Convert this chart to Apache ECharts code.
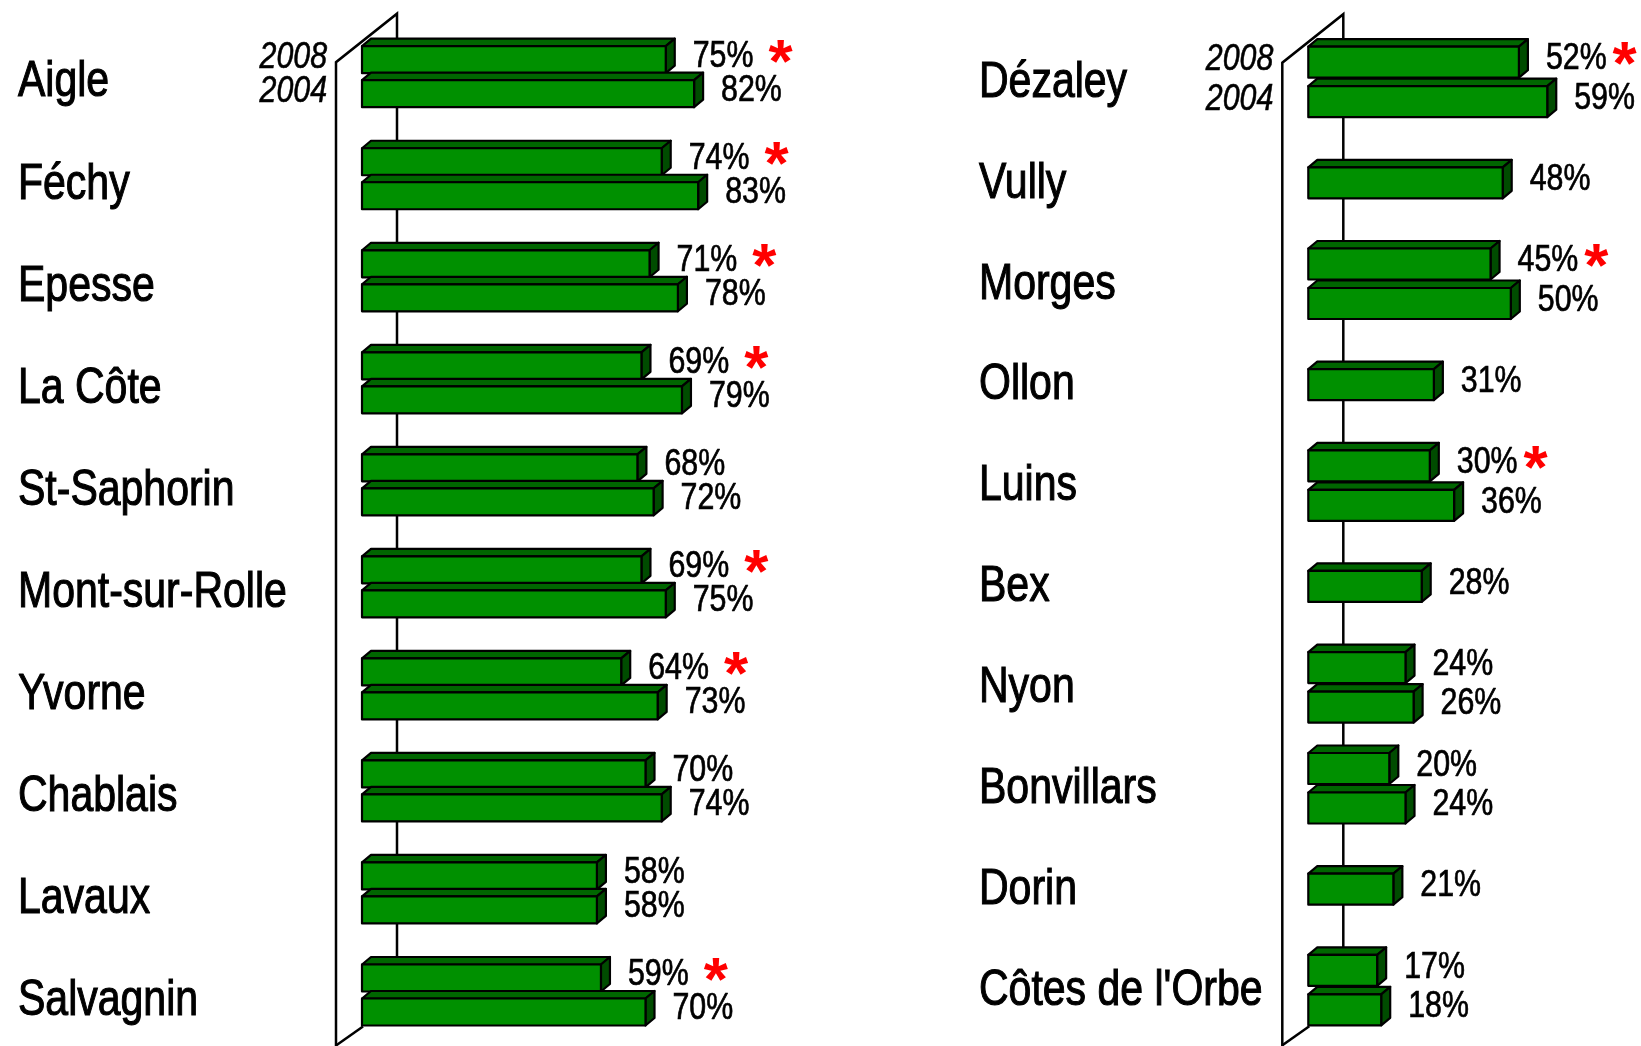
<!DOCTYPE html>
<html>
<head>
<meta charset="utf-8">
<script src="https://cdn.jsdelivr.net/npm/echarts@6/dist/echarts.min.js"></script>
<style>
  html, body { margin: 0; padding: 0; background: #fff; }
  #chart { width: 1641px; height: 1046px; }
</style>
</head>
<body>
<div id="chart"></div>
<script>
// years shown on the first group of each panel
const years = ["2008", "2004"];

// left panel
const leftRegions = ["Aigle", "Féchy", "Epesse", "La Côte", "St-Saphorin", "Mont-sur-Rolle", "Yvorne", "Chablais", "Lavaux", "Salvagnin"];
const left2008 = [75, 74, 71, 69, 68, 69, 64, 70, 58, 59];
const left2004 = [82, 83, 78, 79, 72, 75, 73, 74, 58, 70];
const leftStar = [1, 1, 1, 1, 0, 1, 1, 0, 0, 1];

// right panel (null = only one bar)
const rightRegions = ["Dézaley", "Vully", "Morges", "Ollon", "Luins", "Bex", "Nyon", "Bonvillars", "Dorin", "Côtes de l'Orbe"];
const right2008 = [52, 48, 45, 31, 30, 28, 24, 20, 21, 17];
const right2004 = [59, null, 50, null, 36, null, 26, 24, null, 18];
const rightStar = [1, 0, 1, 0, 1, 0, 0, 0, 0, 0];

// Arial Narrow look: Liberation Sans squeezed horizontally
const SANS = "'Liberation Sans', Arial, sans-serif";
const SQUEEZE = 0.82;
const LABEL_FONT = "50px " + SANS;
const VALUE_FONT = "37px " + SANS;
const YEAR_FONT = "italic 37px " + SANS;
const STAR_FONT = "bold 62px " + SANS;

const FRONT = "#009000";
const TOP = "#006600";
const SIDE = "#004c00";
const DX = 9;   // depth of the 3d bars
const DY = 7.5;

const measureCtx = document.createElement("canvas").getContext("2d");
function textWidth(str, font) {
  measureCtx.font = font;
  return measureCtx.measureText(str).width;
}

function narrowText(str, x, y, font, align, weight) {
  return {
    type: "text",
    x: x,
    y: y,
    scaleX: SQUEEZE,
    style: {
      text: str, x: 0, y: 0, font: font, fill: "#000",
      stroke: "#000", lineWidth: weight || 0.9,
      align: align, verticalAlign: "middle"
    }
  };
}

function buildData(v08, v04, stars) {
  return v08.map((v, i) => [i, v, v04[i] == null ? null : v04[i], stars[i]]);
}

function makeRender(panel) {
  return function (params, api) {
    const idx = params.dataIndex;
    const n = params.dataInsideLength;
    const v08 = api.value(1);
    const v04 = api.value(2);
    const star = api.value(3);
    const base = api.coord([0, idx]);
    const x0 = base[0];
    const cy = base[1];
    const children = [];

    const bars = [];
    if (v04 == null || isNaN(v04)) {
      bars.push({ v: v08, c: cy, star: star });
    } else {
      bars.push({ v: v08, c: cy - panel.pitch / 2, star: star });
      bars.push({ v: v04, c: cy + panel.pitch / 2, star: 0 });
    }

    // 3d wall, drawn once with the first group
    if (idx === 0) {
      const firstTop = bars[0].c - panel.barH / 2;
      const last = api.coord([0, n - 1]);
      const lastBottom = last[1] + panel.pitch / 2 + panel.barH / 2;
      const fx = x0 - 26;
      const bx = x0 + 35;
      const frontTop = firstTop + 16;
      const backTop = firstTop - 32.5;
      const wallStyle = { stroke: "#000", lineWidth: 2.5, fill: null };
      children.push({ type: "polyline", shape: { points: [[fx, 1100], [fx, frontTop], [bx, backTop], [bx, lastBottom]] }, style: wallStyle });
      children.push({ type: "polyline", shape: { points: [[x0 + 1, lastBottom + 1], [fx, lastBottom + 20]] }, style: wallStyle });

      bars.forEach((b, k) => {
        children.push(narrowText(years[k], fx - 9, b.c - 2, YEAR_FONT, "right", 0.6));
      });
    }

    // region name
    children.push(narrowText(panel.regions[idx], panel.labelX, cy + panel.labelDy, LABEL_FONT, "left", 1.1));

    bars.forEach((b) => {
      const xEnd = api.coord([b.v, idx])[0];
      const top = b.c - panel.barH / 2;
      const bottom = b.c + panel.barH / 2;
      const edge = { stroke: "#000", lineWidth: 2.2, lineJoin: "round" };
      children.push({
        type: "polygon",
        shape: { points: [[x0, top], [x0 + DX, top - DY], [xEnd + DX, top - DY], [xEnd, top]] },
        style: Object.assign({ fill: TOP }, edge)
      });
      children.push({
        type: "polygon",
        shape: { points: [[xEnd, top], [xEnd + DX, top - DY], [xEnd + DX, bottom - DY], [xEnd, bottom]] },
        style: Object.assign({ fill: SIDE }, edge)
      });
      children.push({
        type: "rect",
        shape: { x: x0, y: top, width: xEnd - x0, height: bottom - top },
        style: Object.assign({ fill: FRONT }, edge)
      });

      const label = b.v + "%";
      const lx = xEnd + DX + 18;
      const ly = b.c - 3;
      children.push(narrowText(label, lx, ly, VALUE_FONT, "left", 0.7));
      if (b.star) {
        const sx = lx + textWidth(label, VALUE_FONT) * SQUEEZE + panel.starGap;
        children.push({
          type: "text",
          style: { text: "*", x: sx, y: ly + 8, font: STAR_FONT, fill: "#ff0000", align: "left", verticalAlign: "middle" }
        });
      }
    });

    return { type: "group", children: children };
  };
}

const leftPanel = { regions: leftRegions, pitch: 34, barH: 27, starGap: 15, labelX: 18, labelDy: 6 };
const rightPanel = { regions: rightRegions, pitch: 39.5, barH: 31, starGap: 6, labelX: 979, labelDy: 1 };

const chart = echarts.init(document.getElementById("chart"));

const catAxis = (regions) => ({
  type: "category",
  data: regions,
  inverse: true,
  axisLine: { show: false },
  axisTick: { show: false },
  axisLabel: { show: false },
  splitLine: { show: false }
});

chart.setOption({
  animation: false,
  backgroundColor: "#fff",
  grid: [
    { left: 362, top: 25.7, width: 405, height: 1020.7 },
    { left: 1308.3, top: 31.5, width: 324, height: 1009 }
  ],
  xAxis: [
    { gridIndex: 0, type: "value", min: 0, max: 100, show: false },
    { gridIndex: 1, type: "value", min: 0, max: 80, show: false }
  ],
  yAxis: [
    Object.assign({ gridIndex: 0 }, catAxis(leftRegions)),
    Object.assign({ gridIndex: 1 }, catAxis(rightRegions))
  ],
  series: [
    {
      type: "custom",
      xAxisIndex: 0,
      yAxisIndex: 0,
      clip: false,
      renderItem: makeRender(leftPanel),
      encode: { x: [1, 2], y: 0 },
      data: buildData(left2008, left2004, leftStar)
    },
    {
      type: "custom",
      xAxisIndex: 1,
      yAxisIndex: 1,
      clip: false,
      renderItem: makeRender(rightPanel),
      encode: { x: [1, 2], y: 0 },
      data: buildData(right2008, right2004, rightStar)
    }
  ]
});

window.addEventListener("resize", () => chart.resize());
</script>
</body>
</html>
